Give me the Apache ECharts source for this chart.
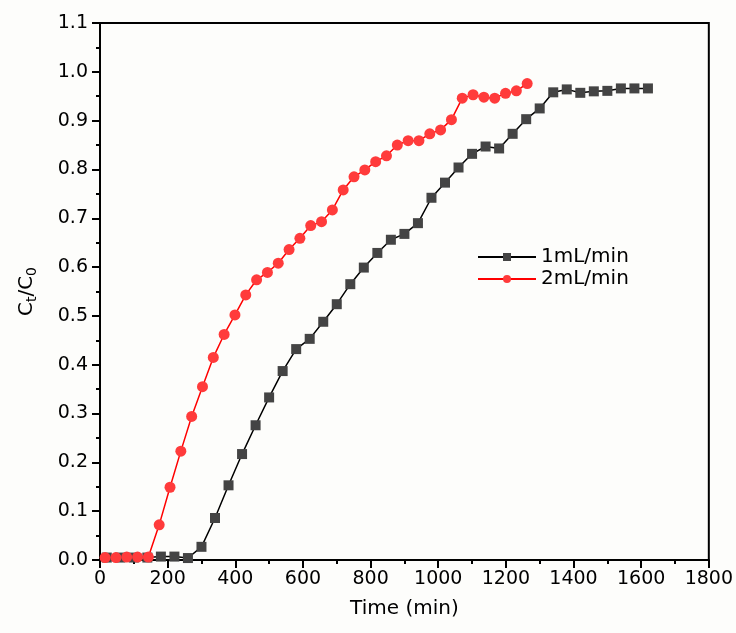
<!DOCTYPE html>
<html>
<head>
<meta charset="utf-8">
<script src="https://cdn.jsdelivr.net/npm/echarts@6/dist/echarts.min.js"></script>
<style>
  html,body{margin:0;padding:0;background:#fdfdfb;}
  #main{width:736px;height:633px;}
</style>
</head>
<body>
<div id="main"></div>
<script>
// 1 mL/min run
var time1 = [20,60,100,140,180,220,260,300,340,380,420,460,500,540,580,620,660,700,740,780,
             820,860,900,940,980,1020,1060,1100,1140,1180,1220,1260,1300,1340,1380,1420,1460,1500,1540,1580,1620];
var ratio1 = [0.005,0.005,0.005,0.005,0.007,0.007,0.004,0.027,0.086,0.153,0.217,0.276,0.333,0.387,0.432,0.453,0.488,0.524,0.565,0.599,
              0.629,0.656,0.668,0.690,0.742,0.773,0.804,0.832,0.847,0.843,0.873,0.903,0.925,0.958,0.964,0.957,0.960,0.961,0.966,0.966,0.966];
// 2 mL/min run
var time2 = [15,47,79,111,143,175,207,239,271,303,335,367,399,431,463,495,527,559,591,623,
             655,687,719,751,783,815,847,879,911,943,975,1007,1039,1071,1103,1135,1167,1199,1231,1263];
var ratio2 = [0.005,0.005,0.006,0.006,0.006,0.072,0.149,0.223,0.294,0.355,0.415,0.462,0.502,0.543,0.574,0.589,0.608,0.636,0.659,0.685,
              0.693,0.717,0.758,0.785,0.799,0.816,0.828,0.850,0.859,0.859,0.873,0.881,0.902,0.946,0.953,0.948,0.946,0.956,0.961,0.976];
var seriesNames = ['1mL/min','2mL/min'];

function pairs(xs, ys){
    var out = [];
    for(var i = 0;i<xs.length;i++){
        out.push([xs[i], ys[i]]);
    }
    return out;
}

var font = 'DejaVu Sans';
var chart = echarts.init(document.getElementById('main'));
var option = {
    backgroundColor: '#fdfdfb',
    animation: false,
    textStyle: {fontFamily: font},
    grid: {
        left: 100, right: 27, top: 23, bottom: 73,
        show: true, borderColor: '#000', borderWidth: 2
    },
    legend: {
        orient: 'vertical',
        left: 472, top: 242,
        itemWidth: 58, itemHeight: 10, itemGap: 2,
        textStyle: {fontFamily: font, fontSize: 20, color: '#000'},
        data: seriesNames
    },
    xAxis: {
        type: 'value', min: 0, max: 1800, interval: 200,
        name: 'Time (min)', nameLocation: 'middle', nameGap: 39,
        nameTextStyle: {fontFamily: font, fontSize: 20, color: '#000'},
        axisLine: {lineStyle: {color: '#000', width: 2}},
        axisTick: {length: 8, lineStyle: {color: '#000', width: 2}},
        minorTick: {show: true, splitNumber: 2, length: 4, lineStyle: {color: '#000', width: 2}},
        splitLine: {show: false},
        axisLabel: {
            color: '#000', fontSize: 19, margin: 10,
            formatter: function(v){ return String(v); }
        }
    },
    yAxis: {
        type: 'value', min: 0, max: 1.1, interval: 0.1,
        name: '{a|C}{s|t}{a|/C}{s|0}', nameLocation: 'middle', nameGap: 60, nameRotate: 90,
        nameTextStyle: {
            color: '#000',
            rich: {
                a: {fontFamily: font, fontSize: 20, color: '#000', lineHeight: 26},
                s: {fontFamily: font, fontSize: 14, color: '#000', lineHeight: 26, padding: [10, 0, 0, 0]}
            }
        },
        axisLine: {lineStyle: {color: '#000', width: 2}},
        axisTick: {length: 8, lineStyle: {color: '#000', width: 2}},
        minorTick: {show: true, splitNumber: 2, length: 4, lineStyle: {color: '#000', width: 2}},
        splitLine: {show: false},
        axisLabel: {
            color: '#000', fontSize: 19, margin: 12,
            formatter: function(v){ return v.toFixed(1); }
        }
    },
    series: [
        {
            name: seriesNames[0], type: 'line',
            data: pairs(time1, ratio1),
            symbol: 'rect', symbolSize: 10,
            lineStyle: {color: '#000', width: 1.5},
            itemStyle: {color: '#444444'}
        },
        {
            name: seriesNames[1], type: 'line',
            data: pairs(time2, ratio2),
            symbol: 'circle', symbolSize: 11,
            lineStyle: {color: '#ff0000', width: 1.5},
            itemStyle: {color: '#ff3b3b'}
        }
    ]
};
chart.setOption(option);
</script>
</body>
</html>
